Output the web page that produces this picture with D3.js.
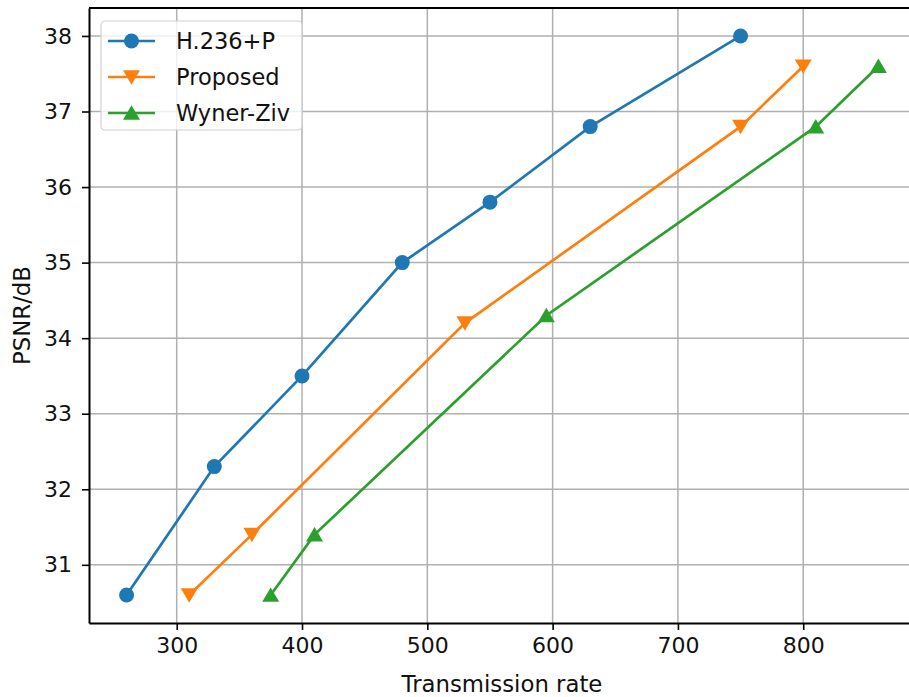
<!DOCTYPE html>
<html>
<head>
<meta charset="utf-8">
<script src="https://cdn.jsdelivr.net/npm/d3@7"></script>
<style>
  html, body { margin: 0; padding: 0; background: #fff; }
  svg { display: block; font-family: "DejaVu Sans", sans-serif; }
</style>
</head>
<body>
<div id="chart"></div>
<script>
// PSNR vs transmission rate, three methods
const seriesNames = ['H.236+P', 'Proposed', 'Wyner-Ziv'];
const h236Rate = [260, 330, 400, 480, 550, 630, 750];
const h236Psnr = [30.6, 32.3, 33.5, 35.0, 35.8, 36.8, 38.0];
const proposedRate = [310, 360, 530, 750, 800];
const proposedPsnr = [30.6, 31.4, 34.2, 36.8, 37.6];
const wynerRate = [375, 410, 595, 810, 860];
const wynerPsnr = [30.6, 31.4, 34.3, 36.8, 37.6];
const xTicks = [300, 400, 500, 600, 700, 800];
const yTicks = [31, 32, 33, 34, 35, 36, 37, 38];

(function(){
  const width = 909, height = 697;
  const margin = {top: 8, left: 89, right: -7, bottom: 74};
  const colors = ['#1f77b4', '#ff7f0e', '#2ca02c'];
  const symbols = ['circle', 'down', 'up'];

  const series = [
    {name: seriesNames[0], pts: h236Rate.map((r,i)=>({x:r, y:h236Psnr[i]}))},
    {name: seriesNames[1], pts: proposedRate.map((r,i)=>({x:r, y:proposedPsnr[i]}))},
    {name: seriesNames[2], pts: wynerRate.map((r,i)=>({x:r, y:wynerPsnr[i]}))}
  ];

  const svg = d3.select('#chart').append('svg')
    .attr('width', width)
    .attr('height', height);

  const x = d3.scaleLinear().domain([230, 890]).range([margin.left, width - margin.right]);
  const y = d3.scaleLinear().domain([30.23, 38.37]).range([height - margin.bottom, margin.top]);

  // grid
  const grid = svg.append('g').attr('stroke', '#b0b0b0').attr('stroke-width', 1.5);
  xTicks.forEach(t => grid.append('line')
    .attr('x1', x(t)).attr('x2', x(t))
    .attr('y1', y.range()[1]).attr('y2', y.range()[0]));
  yTicks.forEach(t => grid.append('line')
    .attr('x1', x.range()[0]).attr('x2', x.range()[1])
    .attr('y1', y(t)).attr('y2', y(t)));

  // lines + markers
  function marker(g, type, cx, cy, color){
    if(type === 'circle'){
      g.append('circle').attr('cx', cx).attr('cy', cy).attr('r', 7.5).attr('fill', color);
    } else {
      const s = 8.5;
      const pts = type === 'down'
        ? [[cx - s, cy - s*0.8], [cx + s, cy - s*0.8], [cx, cy + s*0.9]]
        : [[cx - s, cy + s*0.8], [cx + s, cy + s*0.8], [cx, cy - s*0.9]];
      g.append('polygon').attr('points', pts.map(p=>p.join(',')).join(' ')).attr('fill', color);
    }
  }

  const line = d3.line().x(d=>x(d.x)).y(d=>y(d.y));
  series.forEach((s,i)=>{
    const g = svg.append('g');
    g.append('path').datum(s.pts)
      .attr('d', line)
      .attr('fill', 'none')
      .attr('stroke', colors[i])
      .attr('stroke-width', 2.7);
    s.pts.forEach(p => marker(g, symbols[i], x(p.x), y(p.y), colors[i]));
  });

  // axes
  const xAxis = svg.append('g')
    .attr('transform', `translate(0,${y.range()[0]})`)
    .call(d3.axisBottom(x).tickValues(xTicks).tickSize(7).tickSizeOuter(0).tickPadding(7));
  const yAxis = svg.append('g')
    .attr('transform', `translate(${x.range()[0]},0)`)
    .call(d3.axisLeft(y).tickValues(yTicks).tickSize(7).tickSizeOuter(0).tickPadding(10));
  [xAxis, yAxis].forEach(a => {
    a.attr('font-size', 22).attr('font-family', '"DejaVu Sans", sans-serif');
    a.select('.domain').attr('stroke', '#000').attr('stroke-width', 2);
    a.selectAll('.tick line').attr('stroke', '#000').attr('stroke-width', 1.6);
    a.selectAll('.tick text').attr('fill', '#111');
  });
  // top spine
  svg.append('line')
    .attr('x1', x.range()[0]).attr('x2', x.range()[1])
    .attr('y1', y.range()[1]).attr('y2', y.range()[1])
    .attr('stroke', '#000').attr('stroke-width', 2);

  svg.append('text')
    .attr('x', 502)
    .attr('y', 692)
    .attr('text-anchor', 'middle')
    .attr('font-size', 22.8)
    .attr('fill', '#111')
    .text('Transmission rate');

  svg.append('text')
    .attr('transform', `translate(30,${(y.range()[0] + y.range()[1]) / 2}) rotate(-90)`)
    .attr('text-anchor', 'middle')
    .attr('font-size', 22.8)
    .attr('fill', '#111')
    .text('PSNR/dB');

  // legend
  const legend = svg.append('g');
  legend.append('rect')
    .attr('x', 101).attr('y', 21).attr('width', 201).attr('height', 109)
    .attr('rx', 4)
    .attr('fill', '#fff').attr('fill-opacity', 0.8)
    .attr('stroke', '#d0d0d0').attr('stroke-width', 1.2);
  series.forEach((s,i)=>{
    const ly = 41 + i * 36;
    legend.append('line')
      .attr('x1', 108).attr('x2', 155).attr('y1', ly).attr('y2', ly)
      .attr('stroke', colors[i]).attr('stroke-width', 2.7);
    marker(legend, symbols[i], 131.5, ly, colors[i]);
    legend.append('text')
      .attr('x', 176).attr('y', ly + 8)
      .attr('font-size', 22.5)
      .attr('fill', '#111')
      .text(s.name);
  });
})();
</script>
</body>
</html>
